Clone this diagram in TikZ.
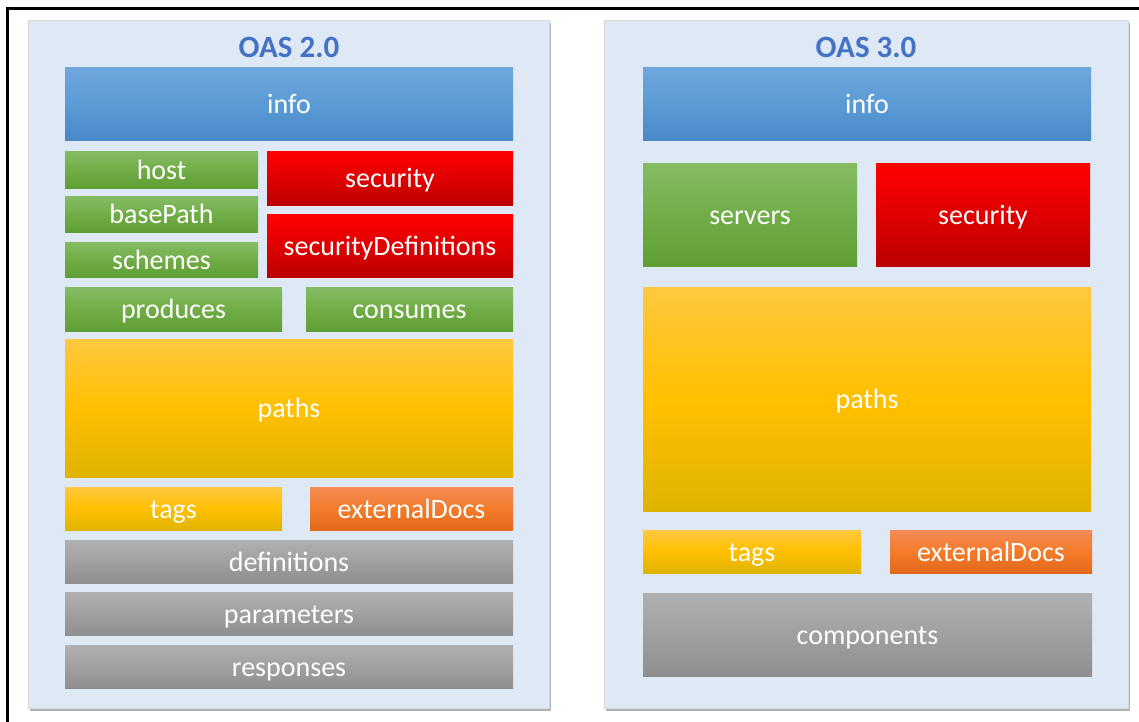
\documentclass[tikz,border=0pt]{standalone}
\usepackage{fontspec}
\setmainfont{Carlito}
\usetikzlibrary{shadows}

\definecolor{panelfill}{HTML}{DEE9F5}
\definecolor{titleblue}{HTML}{4472C4}
\definecolor{infotop}{HTML}{70A6DD}
\definecolor{infomid}{HTML}{5B9BD5}
\definecolor{infobot}{HTML}{4888C8}
\definecolor{greentop}{HTML}{85BC63}
\definecolor{greenmid}{HTML}{71AD47}
\definecolor{greenbot}{HTML}{5F9E35}
\definecolor{redtop}{HTML}{FF0000}
\definecolor{redmid}{HTML}{E00000}
\definecolor{redbot}{HTML}{BC0000}
\definecolor{goldtop}{HTML}{FFC840}
\definecolor{goldmid}{HTML}{FFC000}
\definecolor{goldbot}{HTML}{DFB300}
\definecolor{orangetop}{HTML}{F28B55}
\definecolor{orangemid}{HTML}{F47B2A}
\definecolor{orangebot}{HTML}{E2691B}
\definecolor{greytop}{HTML}{B0B0B0}
\definecolor{greymid}{HTML}{A0A0A0}
\definecolor{greybot}{HTML}{8E8E8E}

\newcommand\boxfont{\fontsize{28}{30}\selectfont}
\newcommand\titlefont{\fontsize{31}{33}\selectfont\bfseries}

\begin{document}
\begin{tikzpicture}[x=1pt,y=-1pt,
    panel/.style={rectangle, fill=panelfill, draw=black!15, line width=0.6pt,
        drop shadow={shadow xshift=2pt, shadow yshift=-3pt, fill=black!60, opacity=.5}},
    oastitle/.style={text=titleblue, font=\titlefont},
    oasbox/.style={rectangle, inner sep=0pt, text=white, font=\boxfont,
        text height=23pt, text depth=4pt},
    infobox/.style={oasbox, top color=infotop, bottom color=infobot, middle color=infomid},
    greenbox/.style={oasbox, top color=greentop, bottom color=greenbot, middle color=greenmid},
    redbox/.style={oasbox, top color=redtop, bottom color=redbot, middle color=redmid},
    goldbox/.style={oasbox, top color=goldtop, bottom color=goldbot, middle color=goldmid},
    orangebox/.style={oasbox, top color=orangetop, bottom color=orangebot, middle color=orangemid},
    greybox/.style={oasbox, top color=greytop, bottom color=greybot, middle color=greymid}
    ]
    \useasboundingbox (0,0) rectangle (1139,721);

    % outer frame, cut at the right and bottom
    \begin{scope}
        \clip (0,0) rectangle (1139,721);
        \draw[line width=2.6pt] (7.3,8.6) rectangle (1170,760);
    \end{scope}

    % OAS 2.0
    \node[panel, minimum width=521pt, minimum height=688pt] (p2) at (288.5,364) {};
    \node[oastitle] (t2) at (289,47) {OAS 2.0};
    \node[infobox, minimum width=448pt, minimum height=73pt] (info2) at (289,103.5) {info};
    \node[greenbox, minimum width=193pt, minimum height=37pt] (host) at (161.5,169.5) {host};
    \node[greenbox, minimum width=193pt, minimum height=36pt] (basePath) at (161.5,214) {basePath};
    \node[greenbox, minimum width=193pt, minimum height=35pt] (schemes) at (161.5,259.5) {schemes};
    \node[redbox, minimum width=246pt, minimum height=54pt] (security2) at (390,178) {security};
    \node[redbox, minimum width=246pt, minimum height=63pt] (secdefs) at (390,245.5) {securityDefinitions};
    \node[greenbox, minimum width=217pt, minimum height=44pt] (produces) at (173.5,309) {produces};
    \node[greenbox, minimum width=207pt, minimum height=44pt] (consumes) at (409.5,309) {consumes};
    \node[goldbox, minimum width=448pt, minimum height=138pt] (paths2) at (289,408) {paths};
    \node[goldbox, minimum width=217pt, minimum height=43pt] (tags2) at (173.5,508.5) {tags};
    \node[orangebox, minimum width=203pt, minimum height=43pt] (extdocs2) at (411.5,508.5) {externalDocs};
    \foreach \n/\y in {definitions/561.5, parameters/613.5, responses/666.5}
        {\node[greybox, minimum width=448pt, minimum height=43pt] (\n) at (289,\y) {\n};}

    % OAS 3.0
    \node[panel, minimum width=524pt, minimum height=688pt] (p3) at (866,364) {};
    \node[oastitle] (t3) at (866,47) {OAS 3.0};
    \node[infobox, minimum width=448pt, minimum height=73pt] (info3) at (867,103.5) {info};
    \node[greenbox, minimum width=214pt, minimum height=103pt] (servers) at (750,214.5) {servers};
    \node[redbox, minimum width=214pt, minimum height=103pt] (security3) at (983,214.5) {security};
    \node[goldbox, minimum width=448pt, minimum height=224pt] (paths3) at (867,399) {paths};
    \node[goldbox, minimum width=218pt, minimum height=43pt] (tags3) at (752,551.5) {tags};
    \node[orangebox, minimum width=202pt, minimum height=43pt] (extdocs3) at (991,551.5) {externalDocs};
    \node[greybox, minimum width=449pt, minimum height=83pt] (components) at (867.5,634.5) {components};
\end{tikzpicture}
\end{document}
